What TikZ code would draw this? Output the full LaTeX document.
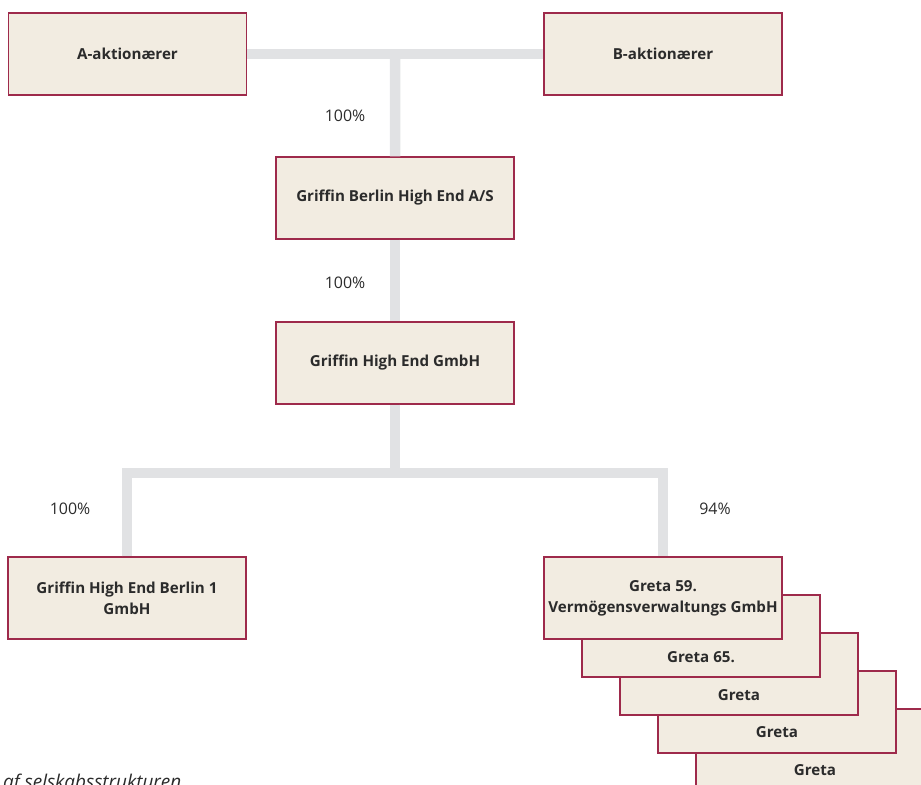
\documentclass[tikz,border=0pt]{standalone}
\usepackage{fontspec}
\setmainfont{Open Sans}
\usetikzlibrary{calc}
\definecolor{boxfill}{HTML}{F2ECE1}
\definecolor{boxline}{HTML}{9E2A4B}
\definecolor{conncol}{HTML}{E1E2E4}
\definecolor{txt}{HTML}{2B2B2B}
\tikzset{
  ent/.style={draw=boxline, line width=1.3bp, fill=boxfill, minimum width=238bp, minimum height=82bp,
    inner sep=0pt, align=center, text=txt, font=\fontsize{15.2}{21}\selectfont\bfseries},
  etext/.style={inner sep=0pt, text=txt, font=\fontsize{15.2}{21}\selectfont\bfseries},
  conn/.style={draw=conncol, line width=10.5bp},
  pct/.style={inner sep=0pt, text=txt, font=\fontsize{16}{18}\selectfont},
}
\begin{document}
\begin{tikzpicture}[x=1bp,y=-1bp]
\useasboundingbox (0,0) rectangle (921,785);
% nodes
\node[ent] (A) at (127.5,54) {A-aktionærer};
\node[ent] (B) at (663,54) {B-aktionærer};
\node[ent] (GB) at (395,198) {Griffin Berlin High End A/S};
\node[ent] (GH) at (395,363) {Griffin High End GmbH};
\coordinate (top) at ($(A.east)!0.5!(B.west)$);
\coordinate (jn) at (395,473);
% connectors
\draw[conn] (A.east) -- (B.west);
\draw[conn] (top) -- (GB.north);
\draw[conn] (GB.south) -- (GH.north);
\draw[conn] (GH.south) -- (jn);
\node[ent] (B1) at (127,598) {Griffin High End Berlin 1\\GmbH};
% stacked Greta boxes (back to front)
\node[ent] (G5) at (815,750) {};
\node[etext] (G5t) at ($(G5.center)+(0,20)$) {Greta};
\node[ent] (G4) at (777,712) {};
\node[etext] (G4t) at ($(G4.center)+(0,20)$) {Greta};
\node[ent] (G3) at (739,674) {};
\node[etext] (G3t) at ($(G3.center)+(0,21)$) {Greta};
\node[ent] (G2) at (701,636) {};
\node[etext] (G2t) at ($(G2.center)+(0,21)$) {Greta 65.};
\node[ent] (G1) at (663,598) {Greta 59.\\Vermögensverwaltungs GmbH};
\draw[conn] (B1.north) |- (jn) -| (G1.north);
% percentages
\node[pct] (p1) at (345,116) {100\%};
\node[pct] (p2) at (345,283) {100\%};
\node[pct] (p3) at (70,509) {100\%};
\node[pct] (p4) at (715,509) {94\%};
% caption (cut by the lower edge, as in the reference)
\node[anchor=base west, inner sep=0pt, text=txt, font=\fontsize{19}{22}\selectfont\itshape] (cap) at (3,788) {af selskabsstrukturen};
\end{tikzpicture}
\end{document}
